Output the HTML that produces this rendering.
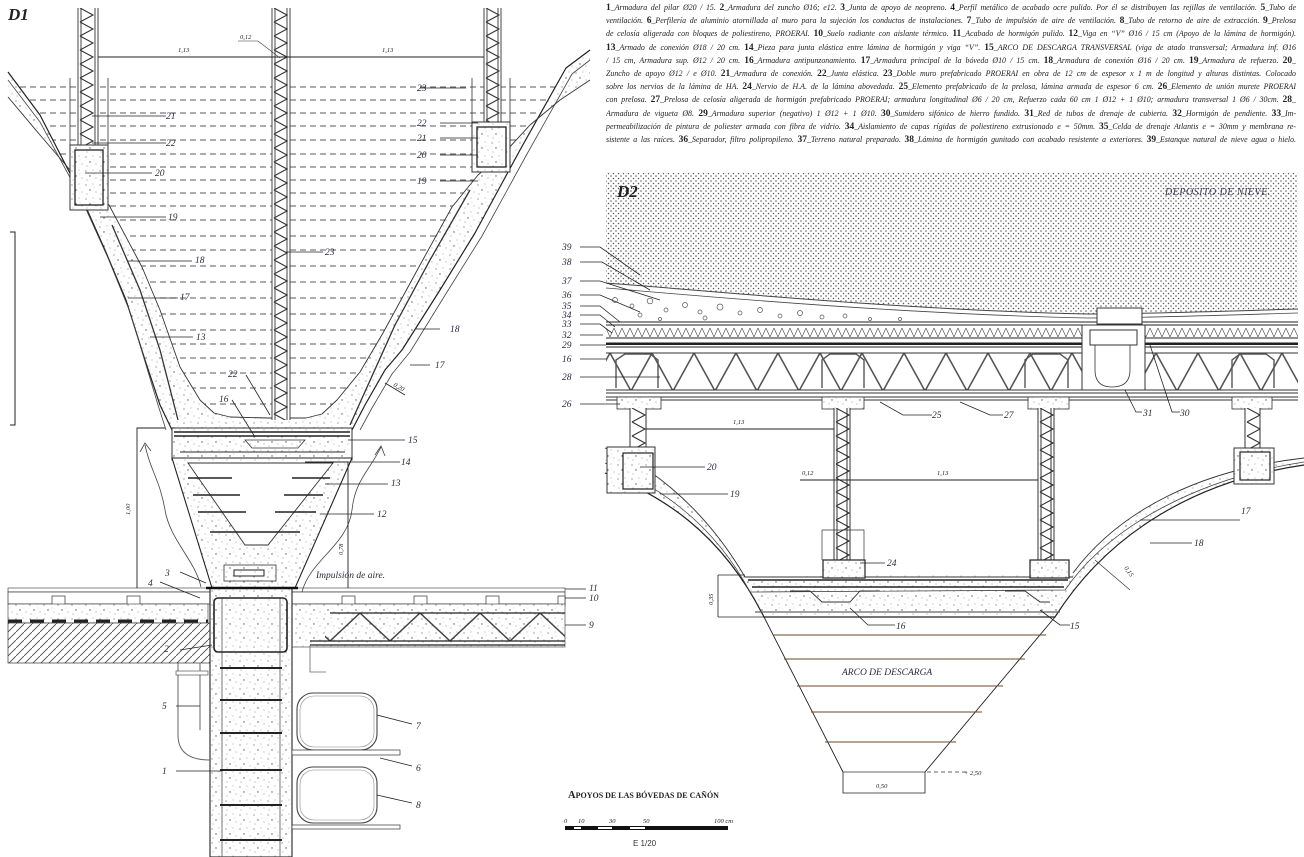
<!DOCTYPE html>
<html><head><meta charset="utf-8">
<style>
html,body{margin:0;padding:0;background:#fff;}
body{width:1304px;height:857px;position:relative;overflow:hidden;}
#txt{position:absolute;left:606px;top:1px;width:690px;font-family:"Liberation Serif",serif;font-style:italic;font-size:7.9px;color:#222;}
#txt div{height:13.2px;line-height:13.2px;text-align:justify;text-align-last:justify;white-space:nowrap;overflow:hidden;}
#txt b{font-style:normal;font-size:9.5px;font-weight:bold;}
svg{position:absolute;left:0;top:0;}
.lb{font-family:"Liberation Serif",serif;font-style:italic;font-size:9.5px;fill:#2b2b40;}
.dm{font-family:"Liberation Serif",serif;font-style:italic;font-size:6.5px;fill:#222;}
</style></head><body>
<div id="txt">
<div><b>1</b>_Armadura del pilar Ø20 / 15. <b>2</b>_Armadura del zuncho Ø16; e12. <b>3</b>_Junta de apoyo de neopreno. <b>4</b>_Perfil metálico de acabado ocre pulido. Por él se distribuyen las rejillas de ventilación. <b>5</b>_Tubo de</div>
<div>ventilación. <b>6</b>_Perfilería de aluminio atornillada al muro para la sujeción los conductos de instalaciones. <b>7</b>_Tubo de impulsión de aire de ventilación. <b>8</b>_Tubo de retorno de aire de extracción. <b>9</b>_Prelosa</div>
<div>de celosía aligerada con bloques de poliestireno, PROERAI. <b>10</b>_Suelo radiante con aislante térmico. <b>11</b>_Acabado de hormigón pulido. <b>12</b>_Viga en “V” Ø16 / 15 cm (Apoyo de la lámina de hormigón).</div>
<div><b>13</b>_Armado de conexión Ø18 / 20 cm. <b>14</b>_Pieza para junta elástica entre lámina de hormigón y viga “V”. <b>15</b>_ARCO DE DESCARGA TRANSVERSAL (viga de atado transversal; Armadura inf. Ø16</div>
<div>/ 15 cm, Armadura sup. Ø12 / 20 cm. <b>16</b>_Armadura antipunzonamiento. <b>17</b>_Armadura principal de la bóveda Ø10 / 15 cm. <b>18</b>_Armadura de conexión Ø16 / 20 cm. <b>19</b>_Armadura de refuerzo. <b>20</b>_</div>
<div>Zuncho de apoyo Ø12 / e Ø10. <b>21</b>_Armadura de conexión. <b>22</b>_Junta elástica. <b>23</b>_Doble muro prefabricado PROERAI en obra de 12 cm de espesor x 1 m de longitud y alturas distintas. Colocado</div>
<div>sobre los nervios de la lámina de HA. <b>24</b>_Nervio de H.A. de la lámina abovedada. <b>25</b>_Elemento prefabricado de la prelosa, lámina armada de espesor 6 cm. <b>26</b>_Elemento de unión murete PROERAI</div>
<div>con prelosa. <b>27</b>_Prelosa de celosía aligerada de hormigón prefabricado PROERAI; armadura longitudinal Ø6 / 20 cm, Refuerzo cada 60 cm 1 Ø12 + 1 Ø10; armadura transversal 1 Ø6 / 30cm. <b>28</b>_</div>
<div>Armadura de vigueta Ø8. <b>29</b>_Armadura superior (negativo) 1 Ø12 + 1 Ø10. <b>30</b>_Sumidero sifónico de hierro fundido. <b>31</b>_Red de tubos de drenaje de cubierta. <b>32</b>_Hormigón de pendiente. <b>33</b>_Im-</div>
<div>permeabilización de pintura de poliester armada con fibra de vidrio. <b>34</b>_Aislamiento de capas rígidas de poliestireno extrusionado e = 50mm. <b>35</b>_Celda de drenaje Atlantis e = 30mm y membrana re-</div>
<div>sistente a las raíces. <b>36</b>_Separador, filtro polipropileno. <b>37</b>_Terreno natural preparado. <b>38</b>_Lámina de hormigón gunitado con acabado resistente a exteriores. <b>39</b>_Estanque natural de nieve agua o hielo.</div>
</div>
<svg width="1304" height="857" viewBox="0 0 1304 857" xmlns="http://www.w3.org/2000/svg">
<defs>
<pattern id="conc" width="14" height="14" patternUnits="userSpaceOnUse">
<rect width="14" height="14" fill="#fff"/>
<circle cx="2" cy="3" r=".6" fill="#666"/><circle cx="9" cy="2" r=".5" fill="#888"/>
<circle cx="6" cy="8" r=".7" fill="#555"/><circle cx="12" cy="10" r=".5" fill="#777"/>
<circle cx="3" cy="12" r=".5" fill="#777"/><circle cx="10" cy="6" r=".4" fill="#999"/>
</pattern>
<pattern id="snow" width="5" height="5" patternUnits="userSpaceOnUse">
<rect width="5" height="5" fill="#fff"/>
<circle cx="1" cy="1" r=".75" fill="#555"/><circle cx="3.5" cy="3.5" r=".75" fill="#555"/>
</pattern>
<pattern id="hatch" width="8" height="8" patternUnits="userSpaceOnUse">
<rect width="8" height="8" fill="#fff"/><path d="M0 8 L8 0" stroke="#444" stroke-width=".8"/>
</pattern>
<pattern id="trussV" width="18" height="14" patternUnits="userSpaceOnUse">
<path d="M2 0 L15 7 L2 14" fill="none" stroke="#333" stroke-width="1.1"/>
</pattern>
<pattern id="zig" width="42" height="40" patternUnits="userSpaceOnUse" x="610" y="353">
<path d="M0 0 L21 38 L42 0" fill="none" stroke="#555" stroke-width="1.6"/>
</pattern>
<pattern id="zig2" width="8" height="9" patternUnits="userSpaceOnUse" x="606" y="328">
<path d="M0 0 L4 9 L8 0" fill="none" stroke="#444" stroke-width=".6"/>
</pattern>
<pattern id="zig3" width="60" height="28" patternUnits="userSpaceOnUse" x="300" y="613">
<path d="M0 0 L30 28 L60 0" fill="none" stroke="#444" stroke-width="1.5"/>
</pattern>
<clipPath id="inner1"><polygon points="8,97 40,135 70,170 109,205 142,267 160,310 180,367 200,400 214,413 230,417 268,418 306,418 322,414 337,400 360,372 383,333 420,265 452,207 478,175 507,150 530,125 560,100 590,80 590,0 8,0"/></clipPath>
</defs>

<!-- ================= D1 ================= -->
<text x="8" y="20" font-family="Liberation Serif,serif" font-style="italic" font-weight="bold" font-size="17" fill="#222">D1</text>
<!-- dashed water lines -->
<g clip-path="url(#inner1)" stroke="#222" stroke-width=".8" stroke-dasharray="6,4">
<path d="M10 87H590M10 100H590M10 113H590M10 126H590M10 140H590M10 154H590M10 167H590M10 180H590M10 193H590M10 206H590M10 220H590M10 236H590M10 250H590M10 266H590M10 282H590M10 298H590M10 314H590M10 330H590M10 344H590M10 358H590M10 373H590M10 388H590M10 404H590"/>
</g>
<!-- concrete shell -->
<polygon points="8,72 40,115 77,187 105,250 126,300 145,360 160,405 172,430 352,430 365,405 385,370 402,350 440,290 475,233 520,150 566,68 590,50 590,80 560,100 530,125 507,150 478,175 452,207 420,265 383,333 360,372 337,400 322,414 306,418 268,418 230,417 214,413 200,400 180,367 160,310 142,267 109,205 70,170 40,135 8,97" fill="url(#conc)" stroke="none"/>
<polyline points="8,72 40,115 77,187 105,250 126,300 145,360 160,405 172,430" fill="none" stroke="#222" stroke-width="1.2" stroke-linejoin="round"/>
<polyline points="8,80 40,122 80,196 108,258 130,312 146,365 158,405 166,430" fill="none" stroke="#444" stroke-width=".8" stroke-linejoin="round"/>
<polyline points="352,430 365,405 385,370 402,350 440,290 475,233 520,150 566,68 590,50" fill="none" stroke="#222" stroke-width="1.2" stroke-linejoin="round"/>
<polyline points="360,430 372,408 392,374 410,352 447,292 482,236 527,154 572,74 590,60" fill="none" stroke="#444" stroke-width=".8" stroke-linejoin="round"/>
<polyline points="8,97 40,135 70,170 109,205 142,267 160,310 180,367 200,400 214,413 230,417 268,418 306,418 322,414 337,400 360,372 383,333 420,265 452,207 478,175 507,150 530,125 560,100 590,80" fill="none" stroke="#333" stroke-width=".9" stroke-linejoin="round"/>
<!-- rebars -->
<path d="M112,225 L140,290 L160,350 L178,420" fill="none" stroke="#333" stroke-width="1.3"/>
<path d="M470,190 L430,260 L395,325 L350,425" fill="none" stroke="#333" stroke-width="1.3"/>
<!-- columns -->
<g transform="translate(78,8)"><rect width="20" height="152" fill="#fff"/><rect width="20" height="152" fill="url(#trussV)"/><path d="M0 0V152M3 0V152M17 0V152M20 0V152" stroke="#333" stroke-width=".9"/></g>
<g transform="translate(272,8)"><rect width="18" height="412" fill="#fff"/><rect width="18" height="412" fill="url(#trussV)"/><path d="M0 0V412M3 0V412M15 0V412M18 0V412" stroke="#333" stroke-width=".9"/></g>
<g transform="translate(484,8)"><rect width="17" height="140" fill="#fff"/><rect width="17" height="140" fill="url(#trussV)"/><path d="M0 0V140M3 0V140M14 0V140M17 0V140" stroke="#333" stroke-width=".9"/></g>
<!-- zuncho boxes -->
<rect x="70" y="145" width="38" height="65" fill="url(#conc)" stroke="#333"/>
<rect x="75" y="150" width="28" height="55" fill="none" stroke="#222" stroke-width="1.3"/>
<rect x="472" y="122" width="38" height="50" fill="url(#conc)" stroke="#333"/>
<rect x="477" y="127" width="29" height="40" fill="none" stroke="#222" stroke-width="1.3"/>
<path d="M70 78V145M108 78V145M472 78V122M510 78V122" fill="none" stroke="#333" stroke-width=".8"/>
<!-- dims top -->
<path d="M98 57H484" stroke="#222" stroke-width=".9"/>
<text x="178" y="52" class="dm">1,13</text><text x="382" y="52" class="dm">1,13</text>
<text x="240" y="39" class="dm">0,12</text><path d="M238 41H258L280 58" fill="none" stroke="#333" stroke-width=".6"/>
<!-- left bracket -->
<path d="M10 232H15V425H10" fill="none" stroke="#222" stroke-width="1"/>
<!-- arch band 15 -->
<rect x="172" y="428" width="180" height="32" fill="url(#conc)" stroke="#333"/>
<path d="M174 432H350M174 436H350" stroke="#222" stroke-width="1.6"/>
<path d="M180 452H345" stroke="#555" stroke-width="1.2"/>
<path d="M245 440H305L298 448H252Z" fill="none" stroke="#333" stroke-width=".8"/>
<!-- V beam -->
<path d="M172,458 L212,588 L295,588 L352,458 Z" fill="url(#conc)" stroke="#222" stroke-width="1.1"/>
<path d="M188,463 L245,545 L268,545 L333,463 Z" fill="#fff" stroke="#333" stroke-width=".9"/>
<path d="M188,478L232,478M193,495L240,495M198,512L246,512M292,478L330,478M284,495L323,495M275,512L316,512M210,532H300" stroke="#222" stroke-width="1.6"/>
<rect x="224" y="565" width="52" height="16" fill="none" stroke="#333" stroke-width=".8"/>
<rect x="234" y="570" width="30" height="6" fill="none" stroke="#222" stroke-width="1"/>
<!-- floor slab -->
<rect x="8" y="588" width="557" height="4" fill="none" stroke="#333" stroke-width=".6"/>
<rect x="8" y="592" width="557" height="12" fill="#fff" stroke="#333" stroke-width=".7"/>
<g fill="#fff" stroke="#333" stroke-width=".7">
<rect x="52" y="596" width="13" height="10"/><rect x="127" y="596" width="13" height="10"/><rect x="342" y="596" width="13" height="10"/><rect x="414" y="596" width="13" height="10"/><rect x="486" y="596" width="13" height="10"/><rect x="558" y="596" width="7" height="10"/>
</g>
<rect x="8" y="604" width="200" height="19" fill="url(#conc)" stroke="#333" stroke-width=".6"/>
<path d="M8 621H208" stroke="#222" stroke-width="3" stroke-dasharray="14,8"/>
<rect x="8" y="623" width="204" height="40" fill="url(#hatch)" stroke="#333" stroke-width=".7"/>
<rect x="292" y="604" width="273" height="43" fill="url(#conc)" stroke="#333" stroke-width=".6"/>
<rect x="325" y="613" width="240" height="28" fill="url(#zig3)"/>
<path d="M330 613H565M310 641H565M310 645H565" stroke="#222" stroke-width="1.3"/>
<!-- column -->
<rect x="210" y="588" width="82" height="269" fill="url(#conc)" stroke="#222" stroke-width="1.1"/>
<path d="M222 598V857M280 598V857" stroke="#555" stroke-width=".8"/>
<rect x="214" y="598" width="73" height="54" rx="4" fill="none" stroke="#222" stroke-width="1.6"/>
<path d="M220 668H282M220 700H282M220 733H282M220 770H282M220 805H282M220 840H282" stroke="#222" stroke-width="2"/>
<path d="M206 588H298" stroke="#111" stroke-width="2.5"/>
<!-- pipe 5 and tubes -->
<path d="M178 663V735Q178 760 210 760M200 663V730" fill="none" stroke="#666" stroke-width="1"/>
<rect x="176" y="671" width="32" height="4" fill="#fff" stroke="#555" stroke-width=".7"/>
<path d="M310 645V672H326" fill="none" stroke="#666" stroke-width=".8"/>
<rect x="297" y="693" width="80" height="57" rx="16" fill="none" stroke="#444" stroke-width="1.1"/>
<rect x="300" y="696" width="74" height="51" rx="14" fill="none" stroke="#888" stroke-width=".6"/>
<rect x="297" y="767" width="80" height="56" rx="16" fill="none" stroke="#444" stroke-width="1.1"/>
<rect x="300" y="770" width="74" height="50" rx="14" fill="none" stroke="#888" stroke-width=".6"/>
<rect x="292" y="750" width="108" height="5" fill="#fff" stroke="#333" stroke-width=".7"/>
<rect x="292" y="825" width="108" height="4" fill="#fff" stroke="#333" stroke-width=".7"/>
<!-- air arrows & dims -->
<path d="M145 445 C150 470 160 480 165 510 C170 540 195 560 201 587" fill="none" stroke="#444" stroke-width=".8"/>
<path d="M140 452L145 443L151 451" fill="none" stroke="#444" stroke-width=".8"/>
<path d="M381 447 C370 470 355 480 352 510 C348 545 310 560 302 592" fill="none" stroke="#444" stroke-width=".8"/>
<path d="M375 455L381 446L385 456" fill="none" stroke="#444" stroke-width=".8"/>
<path d="M137 588V428H165M348 462V588M305 462H348" fill="none" stroke="#222" stroke-width=".9"/>
<text class="dm" transform="translate(130,515) rotate(-90)">1,00</text>
<text class="dm" transform="translate(343,555) rotate(-90)">0,78</text>
<text x="316" y="578" class="lb" font-size="8">Impulsión de aire.</text>
<!-- D1 labels -->
<g stroke="#222" stroke-width=".8">
<path d="M92 116H166M92 143H166M85 173H152M100 217H166M128 261H192M128 298H178M150 337H193M286 252H323M246 375L270 415M232 400L255 437M466 88H420M478 123H440M478 138H440M478 155H440M478 181H440M440 329H416M410 365H430M385 383L405 395M348 440H405M348 462H400M325 484H388M320 514H374M180 572L206 583M160 582L200 598M180 650L212 645M176 706H200M176 771H222M377 715L412 724M380 758L412 766M377 795L412 803M565 589H586M565 598H586M565 625H586"/>
</g>
<text x="166" y="119" class="lb">21</text><text x="166" y="146" class="lb">22</text><text x="155" y="176" class="lb">20</text>
<text x="168" y="220" class="lb">19</text><text x="195" y="263" class="lb">18</text><text x="180" y="300" class="lb">17</text>
<text x="196" y="340" class="lb">13</text><text x="325" y="255" class="lb">23</text><text x="228" y="377" class="lb">22</text>
<text x="219" y="402" class="lb">16</text><text x="393" y="386" class="dm" transform="rotate(30 393 386)">0,20</text>
<text x="450" y="332" class="lb">18</text><text x="435" y="368" class="lb">17</text>
<text x="417" y="91" class="lb">23</text><text x="417" y="126" class="lb">22</text><text x="417" y="141" class="lb">21</text>
<text x="417" y="158" class="lb">20</text><text x="417" y="184" class="lb">19</text>
<text x="408" y="443" class="lb">15</text><text x="401" y="465" class="lb">14</text><text x="391" y="486" class="lb">13</text>
<text x="377" y="517" class="lb">12</text><text x="165" y="576" class="lb">3</text><text x="148" y="586" class="lb">4</text>
<text x="589" y="591" class="lb">11</text><text x="589" y="601" class="lb">10</text><text x="589" y="628" class="lb">9</text>
<text x="164" y="652" class="lb">2</text><text x="162" y="709" class="lb">5</text><text x="162" y="774" class="lb">1</text>
<text x="416" y="729" class="lb">7</text><text x="416" y="771" class="lb">6</text><text x="416" y="808" class="lb">8</text>

<!-- ================= D2 ================= -->
<path d="M606,173 H1298 V309 C1200,312 1120,314 1088,314 C900,310 700,290 606,283 Z" fill="url(#snow)"/>
<path d="M606,283 C700,290 900,310 1088,314 C1120,314 1200,312 1298,309" fill="none" stroke="#444" stroke-width="1"/>
<path d="M606,288 C700,296 900,314 1088,318 C1120,318 1200,316 1298,313" fill="none" stroke="#444" stroke-width=".8"/>
<g fill="none" stroke="#555" stroke-width=".7">
<circle cx="615" cy="300" r="2.5"/><circle cx="632" cy="306" r="2"/><circle cx="650" cy="301" r="2.8"/><circle cx="666" cy="310" r="2"/><circle cx="685" cy="305" r="2.5"/><circle cx="700" cy="312" r="2"/><circle cx="720" cy="307" r="3"/><circle cx="740" cy="313" r="2"/><circle cx="760" cy="310" r="2.5"/><circle cx="780" cy="316" r="2"/><circle cx="800" cy="313" r="2.5"/><circle cx="822" cy="317" r="2"/><circle cx="845" cy="316" r="2"/><circle cx="870" cy="319" r="1.5"/><circle cx="900" cy="319" r="1.5"/><circle cx="640" cy="315" r="2"/><circle cx="705" cy="318" r="2"/><circle cx="660" cy="319" r="1.5"/>
</g>
<text x="617" y="197" font-family="Liberation Serif,serif" font-style="italic" font-weight="bold" font-size="17" fill="#222">D2</text>
<text x="1165" y="195" font-family="Liberation Serif,serif" font-style="italic" font-size="10" fill="#3a3a55" letter-spacing=".5">DEPOSITO DE NIEVE.</text>
<!-- layers -->
<path d="M606 322H1298M606 325H1298M606 338H1298M606 343H1298M606 347H1298" stroke="#222" stroke-width="1"/>
<rect x="606" y="328" width="692" height="9" fill="url(#zig2)"/>
<path d="M606 344H1298" stroke="#222" stroke-width="2"/>
<rect x="606" y="353" width="692" height="37" fill="url(#zig)"/>
<path d="M606 353H1298M606 390H1298M606 393H1298M606 397H1298M606 400H1298" stroke="#333" stroke-width=".9"/>
<g fill="none" stroke="#555" stroke-width="1.4">
<path d="M616 388V360L625 354H650L658 360V388M822 388V360L830 354H856L864 360V388M1025 388V360L1033 354H1060L1068 360V388M1232 388V360L1240 354H1266L1274 360V388"/>
</g>
<!-- drain -->
<rect x="1082" y="325" width="63" height="65" fill="#fff" stroke="#333" stroke-width="1"/>
<rect x="1097" y="308" width="45" height="16" fill="#fff" stroke="#333" stroke-width="1"/>
<path d="M1090 330H1137V345H1090Z" fill="none" stroke="#333" stroke-width="1"/>
<path d="M1095 345V370Q1095 387 1112 387Q1130 387 1130 370V345" fill="none" stroke="#333" stroke-width=".8"/>
<!-- post caps -->
<g fill="url(#conc)" stroke="#333" stroke-width=".8">
<rect x="617" y="397" width="44" height="12"/><rect x="822" y="397" width="42" height="12"/><rect x="1028" y="397" width="41" height="12"/><rect x="1232" y="397" width="40" height="12"/>
</g>
<!-- vault -->
<path d="M605,448 C640,460 700,500 745,577 L1073,573 C1120,510 1200,470 1304,458 L1304,625 L605,625 Z" fill="url(#conc)"/>
<path d="M605,473 C660,495 720,530 764,617 L1055,617 C1110,530 1200,480 1304,465 L1304,857 L605,857 Z" fill="#fff"/>
<path d="M605,448 C640,460 700,500 745,577 M1073,573 C1120,510 1200,470 1304,458" fill="none" stroke="#333" stroke-width=".9"/>
<path d="M605,473 C660,495 720,530 764,617 L1055,617 C1110,530 1200,480 1304,465" fill="none" stroke="#222" stroke-width="1.2"/>
<path d="M605,463 C655,485 712,520 750,592 L1065,590 C1110,525 1200,478 1304,462" fill="none" stroke="#444" stroke-width=".8"/>
<path d="M745,577 H1073" stroke="#333" stroke-width="1"/>
<path d="M748,580 H1068 M752,587 H1064" stroke="#222" stroke-width="1.5"/>
<path d="M755,612 H1060" stroke="#666" stroke-width="1.3"/>
<path d="M790 591H810L822 602H850L860 591H880M1005 591H1025L1040 602H1050" fill="none" stroke="#333" stroke-width=".9"/>
<!-- posts -->
<g transform="translate(630,408)"><rect width="16" height="40" fill="#fff"/><rect width="16" height="40" fill="url(#trussV)"/><path d="M0 0V40M16 0V40" stroke="#333"/></g>
<g transform="translate(834,408)"><rect width="16" height="155" fill="#fff"/><rect width="16" height="155" fill="url(#trussV)"/><path d="M0 0V155M3 0V155M13 0V155M16 0V155" stroke="#333"/></g>
<g transform="translate(1038,408)"><rect width="16" height="155" fill="#fff"/><rect width="16" height="155" fill="url(#trussV)"/><path d="M0 0V155M3 0V155M13 0V155M16 0V155" stroke="#333"/></g>
<g transform="translate(1245,408)"><rect width="15" height="40" fill="#fff"/><rect width="15" height="40" fill="url(#trussV)"/><path d="M0 0V40M15 0V40" stroke="#333"/></g>
<rect x="607" y="447" width="48" height="46" fill="url(#conc)" stroke="#333"/>
<rect x="623" y="453" width="30" height="36" fill="none" stroke="#222" stroke-width="1.2"/>
<rect x="1234" y="448" width="40" height="36" fill="url(#conc)" stroke="#333"/>
<rect x="1240" y="452" width="30" height="28" fill="none" stroke="#222" stroke-width="1.2"/>
<rect x="823" y="560" width="42" height="18" fill="url(#conc)" stroke="#222" stroke-width="1.2"/>
<rect x="1030" y="560" width="39" height="18" fill="url(#conc)" stroke="#222" stroke-width="1.2"/>
<path d="M822 530H864V560M822 530V560" fill="none" stroke="#333" stroke-width=".7"/>
<!-- trapezoid -->
<path d="M764,617 L843,772 M1055,617 L925,772" stroke="#222" stroke-width=".9"/>
<path d="M773 635H1046M784 659H1025M797 686H1003M811 712H982M825 742H956" stroke="#6b4a2a" stroke-width="1"/>
<path d="M843 772H925" stroke="#999" stroke-width="1.5"/>
<path d="M843 772V793H925V772" fill="none" stroke="#222" stroke-width=".8"/>
<text x="876" y="788" class="dm">0,50</text>
<path d="M927 772H968" stroke="#333" stroke-width=".7" stroke-dasharray="4,3"/>
<text x="964" y="775" class="dm">+ 2,50</text>
<text x="842" y="675" class="lb" font-size="10">ARCO DE DESCARGA</text>
<!-- D2 dims -->
<path d="M646 429H834M800 480H1038" stroke="#222" stroke-width=".9"/>
<text x="733" y="424" class="dm">1,13</text><text x="802" y="475" class="dm">0,12</text><text x="937" y="475" class="dm">1,13</text>
<path d="M718 575V617M718 575H745M718 617H764" fill="none" stroke="#222" stroke-width=".8"/>
<text class="dm" transform="translate(713,605) rotate(-90)">0,35</text>
<path d="M1095 560L1130 590" stroke="#333" stroke-width=".7"/>
<text class="dm" transform="translate(1124,568) rotate(55)">0,15</text>
<!-- D2 labels -->
<g stroke="#222" stroke-width=".8" fill="none">
<path d="M580 247H600L640 275M580 262H602L650 290M580 281H600L660 300M580 295H600L640 312M580 306H600L620 322M580 315H600L615 327M580 324H600L612 333M580 335H603M580 345H606M580 359H606M580 377H660M580 404H620"/>
<path d="M640 467H705M660 494H728M860 563H885M850 608L868 625H895M1040 610L1060 625H1070M1140 520H1240M1150 543H1192"/>
<path d="M880 402L903 415H932M960 402L990 415H1003M1125 390L1136 412H1142M1150 345L1172 412H1180"/>
</g>
<text x="562" y="250" class="lb">39</text><text x="562" y="265" class="lb">38</text><text x="562" y="284" class="lb">37</text>
<text x="562" y="298" class="lb">36</text><text x="562" y="309" class="lb">35</text><text x="562" y="318" class="lb">34</text>
<text x="562" y="327" class="lb">33</text><text x="562" y="338" class="lb">32</text><text x="562" y="348" class="lb">29</text>
<text x="562" y="362" class="lb">16</text><text x="562" y="380" class="lb">28</text><text x="562" y="407" class="lb">26</text>
<text x="932" y="418" class="lb">25</text><text x="1004" y="418" class="lb">27</text><text x="1143" y="416" class="lb">31</text><text x="1180" y="416" class="lb">30</text>
<text x="707" y="470" class="lb">20</text><text x="730" y="497" class="lb">19</text><text x="887" y="566" class="lb">24</text>
<text x="896" y="629" class="lb">16</text><text x="1070" y="629" class="lb">15</text><text x="1241" y="514" class="lb">17</text><text x="1194" y="546" class="lb">18</text>
<!-- caption & scale -->
<text x="568" y="798" font-family="Liberation Serif,serif" font-weight="bold" font-size="10.5" fill="#222">A<tspan font-size="8">POYOS DE LAS BÓVEDAS DE CAÑÓN</tspan></text>
<rect x="565" y="826" width="163" height="4" fill="#111"/>
<rect x="574" y="827" width="7" height="2" fill="#fff"/><rect x="598" y="827" width="14" height="2" fill="#fff"/><rect x="630" y="827" width="15" height="2" fill="#fff"/>
<text x="564" y="823" class="dm">0</text><text x="578" y="823" class="dm">10</text><text x="609" y="823" class="dm">30</text><text x="643" y="823" class="dm">50</text><text x="714" y="823" class="dm">100 cm</text>
<text x="633" y="846" font-family="Liberation Sans,sans-serif" font-size="8" fill="#333">E 1/20</text>
</svg>
</body></html>
